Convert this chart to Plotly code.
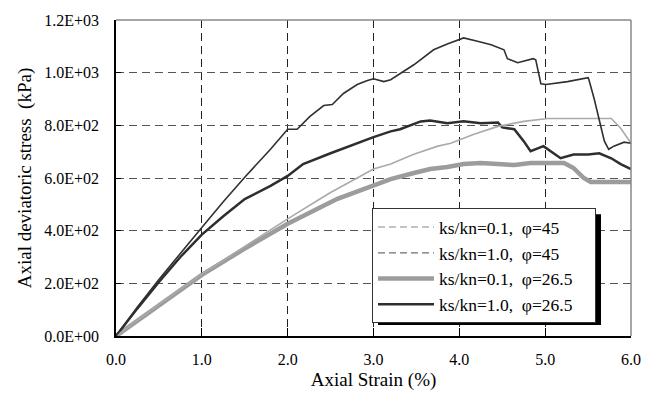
import plotly.graph_objects as go

# ---- data ----
x_01_45 = [0, 0.5, 1.0, 1.5, 2.0, 2.38, 2.5, 3.0, 3.2, 3.47, 3.75, 3.90, 4.17, 4.45, 4.75,
           5.03, 5.26, 5.42, 5.61, 5.77, 5.88, 6.0]
y_01_45 = [0, 120, 235, 340, 445, 521, 545, 634, 653, 690, 721, 732, 766, 796, 815,
           826, 826, 826, 826, 826, 789, 732]

x_10_45 = [0, 0.25, 0.5, 0.75, 1.0, 1.25, 1.5, 1.8, 2.0, 2.11, 2.26, 2.42, 2.52, 2.65, 2.81,
           2.93, 3.0, 3.12, 3.2, 3.47, 3.70, 3.86, 4.05, 4.2, 4.37, 4.52, 4.56, 4.68, 4.86,
           4.89, 4.95, 5.01, 5.26, 5.50, 5.51, 5.57, 5.69, 5.74, 5.80, 5.92, 6.0]
y_10_45 = [0, 110, 215, 315, 412, 510, 603, 709, 785, 785, 834, 875, 879, 921, 955,
           970, 977, 966, 973, 1030, 1087, 1109, 1132, 1120, 1106, 1087, 1053, 1038, 1053,
           1049, 958, 955, 966, 981, 973, 902, 740, 709, 721, 736, 732]

x_01_265 = [0, 0.5, 1.0, 1.5, 2.0, 2.58, 3.08, 3.2, 3.47, 3.66, 3.86, 4.05, 4.25, 4.40, 4.48,
            4.64, 4.83, 5.03, 5.22, 5.33, 5.45, 5.53, 5.80, 6.0]
y_01_265 = [0, 118, 232, 332, 426, 521, 581, 596, 619, 634, 642, 653, 657, 653, 653,
            649, 657, 657, 657, 638, 600, 585, 585, 585]

x_10_265 = [0, 0.25, 0.5, 0.75, 1.0, 1.25, 1.5, 1.8, 2.0, 2.18, 2.5, 2.77, 3.0, 3.2, 3.31,
            3.55, 3.66, 3.86, 4.05, 4.25, 4.45, 4.50, 4.64, 4.75, 4.83, 4.98, 5.10, 5.18,
            5.33, 5.50, 5.63, 5.77, 5.88, 6.0]
y_10_265 = [0, 105, 205, 300, 385, 455, 520, 570, 608, 653, 694, 728, 755, 777, 785,
            815, 818, 808, 815, 808, 811, 792, 785, 740, 702, 721, 694, 675,
            689, 689, 694, 675, 653, 634]

PAD = "\u00a0" * 4
names = ["ks/kn=0.1,\u00a0\u00a0φ=45" + PAD, "ks/kn=1.0,\u00a0\u00a0φ=45" + PAD,
         "ks/kn=0.1,\u00a0\u00a0φ=26.5" + PAD, "ks/kn=1.0,\u00a0\u00a0φ=26.5" + PAD]

y_tickvals = [0, 200, 400, 600, 800, 1000, 1200]
y_ticktext = ["0.0E+00", "2.0E+02", "4.0E+02", "6.0E+02", "8.0E+02", "1.0E+03", "1.2E+03"]
x_tickvals = [0, 1, 2, 3, 4, 5, 6]
x_ticktext = ["0.0", "1.0", "2.0", "3.0", "4.0", "5.0", "6.0"]

FONT = "Liberation Serif"

fig = go.Figure()
# legend-only entries (legend shows these as dashed)
fig.add_trace(go.Scatter(x=[None], y=[None], mode="lines", name=names[0],
                         line=dict(color="#b0b0b0", width=1.5, dash="7px,4px")))
fig.add_trace(go.Scatter(x=[None], y=[None], mode="lines", name=names[1],
                         line=dict(color="#707070", width=1.2, dash="7px,4px")))
fig.add_trace(go.Scatter(x=x_01_265, y=y_01_265, mode="lines", name=names[2],
                         line=dict(color="#9c9c9c", width=4.5)))
fig.add_trace(go.Scatter(x=x_10_265, y=y_10_265, mode="lines", name=names[3],
                         line=dict(color="#2e2e2e", width=2.5)))
fig.add_trace(go.Scatter(x=x_01_45, y=y_01_45, mode="lines", name=names[0], showlegend=False,
                         line=dict(color="#aaaaaa", width=1.6)))
fig.add_trace(go.Scatter(x=x_10_45, y=y_10_45, mode="lines", name=names[1], showlegend=False,
                         line=dict(color="#303030", width=1.6)))

L, R, T, B = 116, 22, 17, 65
W, H = 653, 401
pw, ph = W - L - R, H - T - B

def px2paper(xp, yp):
    return (xp - L) / pw, (H - B - yp) / ph

lx, ly = px2paper(372, 207)

fig.update_layout(
    width=W, height=H,
    margin=dict(l=L, r=R, t=T, b=B),
    paper_bgcolor="white", plot_bgcolor="white",
    font=dict(family=FONT, size=16, color="black"),
    showlegend=True,
    legend=dict(x=lx, y=ly, xanchor="left", yanchor="top",
                bgcolor="white", bordercolor="#333", borderwidth=1,
                font=dict(family=FONT, size=17.5, color="black"),
                itemwidth=56, tracegroupgap=0),
    xaxis=dict(range=[0, 6], tickvals=x_tickvals, ticktext=x_ticktext,
               showline=True, linecolor="black", linewidth=1.5,
               ticks="inside", ticklen=8, tickcolor="black",
               showgrid=True, gridcolor="#222", griddash="8px,5px", gridwidth=1,
               zeroline=False, ticklabelstandoff=8,
               title=dict(text="Axial Strain (%)", font=dict(family=FONT, size=19), standoff=6)),
    yaxis=dict(range=[0, 1200], tickvals=y_tickvals, ticktext=y_ticktext,
               showline=True, linecolor="black", linewidth=1.5,
               ticks="inside", ticklen=5, tickcolor="black",
               showgrid=True, gridcolor="#555", griddash="8px,5px", gridwidth=1,
               zeroline=False, ticklabelstandoff=12,
               title=dict(text="Axial deviatoric stress\u00a0\u00a0(kPa)",
                          font=dict(family=FONT, size=19), standoff=8)),
    shapes=[
        dict(type="line", xref="paper", yref="paper", x0=0, x1=1, y0=1, y1=1,
             line=dict(color="#888", width=1.5), layer="above"),
        dict(type="line", xref="paper", yref="paper", x0=1, x1=1, y0=0, y1=1,
             line=dict(color="#888", width=1.5), layer="above"),
        # legend drop shadow
        dict(type="rect", xref="paper", yref="paper",
             x0=px2paper(378, 0)[0], x1=px2paper(601, 0)[0],
             y0=px2paper(0, 325)[1], y1=px2paper(0, 213)[1],
             fillcolor="black", line=dict(width=0), layer="above"),
    ],
)

fig.write_html("out.html")
